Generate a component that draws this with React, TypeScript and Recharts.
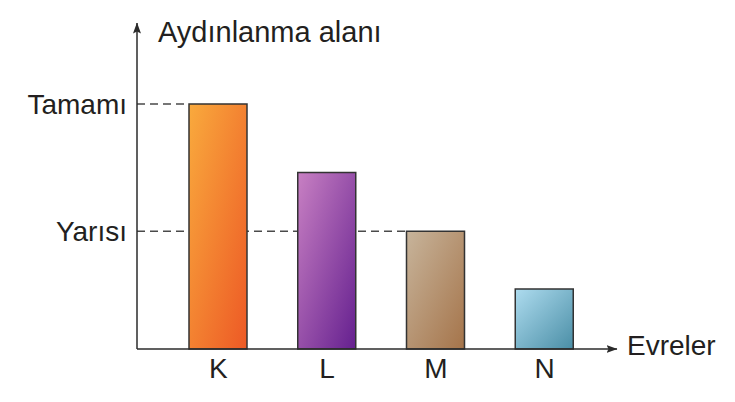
import React from 'react';
import { BarChart, Bar, XAxis, YAxis, Cell } from 'recharts';

const PHASES = ['K', 'L', 'M', 'N'];
const LIT_AREA = [1, 0.72, 0.48, 0.245];
const LEVEL_VALUES = [0.48, 1];
const LEVEL_NAMES = ['Yarısı', 'Tamamı'];

const data = PHASES.map((name, i) => ({ name, value: LIT_AREA[i] }));

const BAR_GRADIENTS = [
  ['#f9aa3d', '#ed5925'],
  ['#c880c3', '#65208f'],
  ['#c7b49b', '#a5744a'],
  ['#aedcef', '#4a8ea6'],
];

const FONT = '"Liberation Sans", Arial, Helvetica, sans-serif';
const INK = '#231f20';
const AXIS = '#2b2b2b';
const PLOT_LEFT = 137;
const X_PAD = { left: 27, right: 18 };
const BAR_SIZE = 58;

// dashed guide from the y axis to the left edge of a bar that sits on a level
const GuideShape = (props: any) => {
  const { x, y, payload } = props;
  if (!payload || !LEVEL_VALUES.includes(payload.value)) return <g />;
  return (
    <line
      x1={PLOT_LEFT}
      y1={y}
      x2={x}
      y2={y}
      stroke="#4a4a4a"
      strokeWidth={1.5}
      strokeDasharray="8 5"
    />
  );
};

const axisTitle = (text: string, dx: number, dy: number, size: number) => (props: any) => {
  const vb = props.viewBox || {};
  return (
    <text
      x={vb.x + vb.width + dx}
      y={vb.y + dy}
      fill={INK}
      fontSize={size}
      fontFamily={FONT}
    >
      {text}
    </text>
  );
};

export default function App() {
  return (
    <div style={{ position: 'absolute', left: 0, top: 0, width: 735, height: 402, background: '#fff' }}>
      <BarChart
        width={735}
        height={402}
        data={data}
        margin={{ top: 23, right: 118, bottom: 51, left: 0 }}
      >
        <defs>
          {BAR_GRADIENTS.map(([from, to], i) => (
            <linearGradient key={i} id={`bar-grad-${i}`} x1="0" y1="0" x2="1" y2="1">
              <stop offset="0%" stopColor={from} />
              <stop offset="100%" stopColor={to} />
            </linearGradient>
          ))}
          <marker
            id="axis-arrow"
            viewBox="0 0 11 8"
            refX="10.5"
            refY="4"
            markerWidth="11"
            markerHeight="8"
            markerUnits="userSpaceOnUse"
            orient="auto-start-reverse"
          >
            <path d="M0,0 L11,4 L0,8 L2,4 Z" fill={AXIS} />
          </marker>
        </defs>
        <XAxis xAxisId="guide" dataKey="name" hide padding={X_PAD} />
        <XAxis
          dataKey="name"
          height={2}
          padding={X_PAD}
          axisLine={{ stroke: AXIS, strokeWidth: 1.5, markerEnd: 'url(#axis-arrow)' }}
          tickLine={false}
          tickMargin={3}
          tick={{ fill: INK, fontSize: 28, fontFamily: FONT }}
          label={{ content: axisTitle('Evreler', 10, 6, 28) }}
        />
        <YAxis
          width={PLOT_LEFT}
          domain={[0, 1.33]}
          ticks={LEVEL_VALUES}
          tickFormatter={(v: number) => LEVEL_NAMES[LEVEL_VALUES.indexOf(v)]}
          axisLine={{ stroke: AXIS, strokeWidth: 1.5, markerStart: 'url(#axis-arrow)' }}
          tickLine={false}
          tickMargin={4}
          tick={{ fill: INK, fontSize: 28, fontFamily: FONT }}
          label={{ content: axisTitle('Aydınlanma alanı', 21, 19, 29) }}
        />
        <Bar
          xAxisId="guide"
          dataKey="value"
          barSize={BAR_SIZE}
          shape={GuideShape}
          isAnimationActive={false}
        />
        <Bar
          dataKey="value"
          barSize={BAR_SIZE}
          stroke="#333333"
          strokeWidth={1.5}
          isAnimationActive={false}
        >
          {data.map((d, i) => (
            <Cell key={d.name} fill={`url(#bar-grad-${i})`} />
          ))}
        </Bar>
      </BarChart>
    </div>
  );
}
